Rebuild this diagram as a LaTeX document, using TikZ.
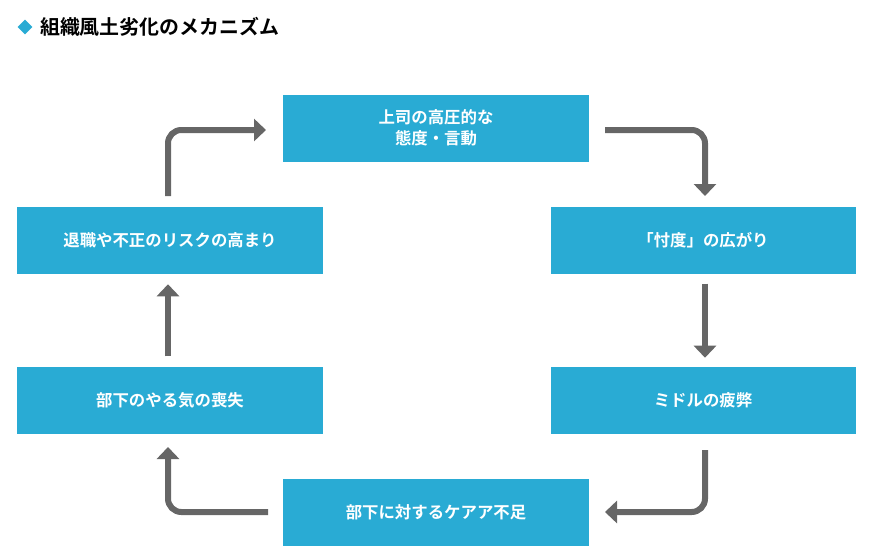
\documentclass[tikz,border=0pt]{standalone}
\usepackage{fontspec}
\setmainfont{Noto Sans CJK JP}[BoldFont={* Bold}]
\usetikzlibrary{arrows.meta,shapes.geometric}
\definecolor{boxblue}{HTML}{29ABD4}
\definecolor{arrgray}{HTML}{666666}
\begin{document}
\begin{tikzpicture}[x=0.03cm,y=-0.03cm,
  step box/.style={fill=boxblue,text=white,font=\bfseries\fontsize{14}{18}\selectfont,
    minimum width=9.15cm,minimum height=2.01cm,inner sep=0pt,align=center},
  flow/.style={draw=arrgray,line width=1.8mm,rounded corners=0.4cm,
    -{Triangle[length=3.6mm,width=6.6mm]}}]
\useasboundingbox (0,0) rectangle (870,556);
\node[diamond,fill=boxblue,minimum size=0.45cm,inner sep=0pt] (mark) at (25,27) {};
\node[anchor=west,font=\bfseries\fontsize{17}{20}\selectfont] (title) at (36,27) {組織風土劣化のメカニズム};
\node[step box] (s1) at (436,128) {上司の高圧的な\\態度・言動};
\node[step box] (s2) at (703,240) {「忖度」の広がり};
\node[step box] (s3) at (703,400) {ミドルの疲弊};
\node[step box] (s4) at (436,512) {部下に対するケアア不足};
\node[step box] (s5) at (170,400) {部下のやる気の喪失};
\node[step box] (s6) at (170,240) {退職や不正のリスクの高まり};
\coordinate (a1) at (605,130);
\coordinate (a2) at (705,196);
\coordinate (a3) at (705,450);
\coordinate (a4) at (605,512);
\coordinate (a5) at (268,512);
\coordinate (a6) at (168,447);
\coordinate (a7) at (168,196);
\coordinate (a8) at (266,130);
\draw[flow] (a1) -| (a2);
\draw[flow] (s2.south -| a2) ++(0,10) -- ++(0,74);
\draw[flow] (a3) |- (a4);
\draw[flow] (a5) -| (a6);
\draw[flow] (s5.north -| a6) ++(0,-10) -- ++(0,-72);
\draw[flow] (a7) |- (a8);
\end{tikzpicture}
\end{document}
